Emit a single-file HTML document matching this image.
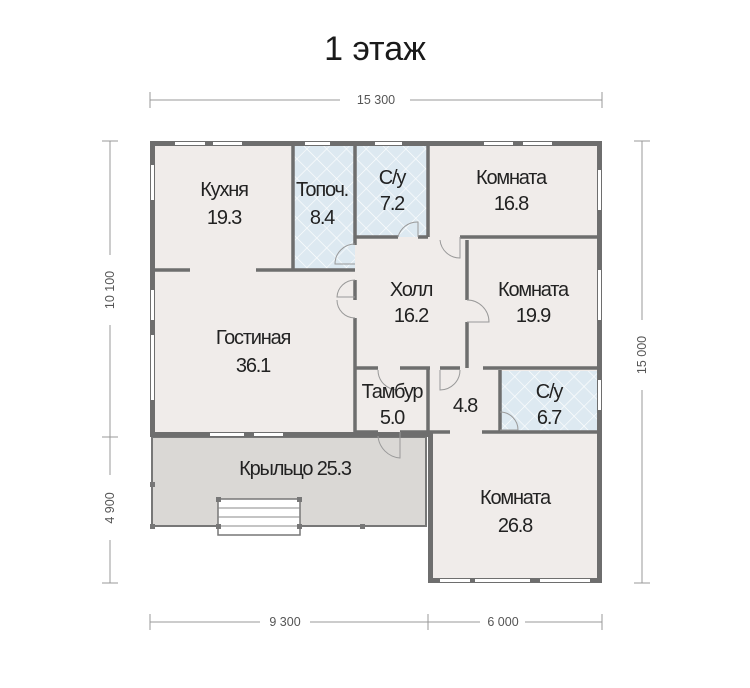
<!DOCTYPE html>
<html><head><meta charset="utf-8"><style>
html,body{margin:0;padding:0;background:#fff;}
svg{display:block}
text{font-family:"Liberation Sans",sans-serif;fill:#222;}
.dim{font-size:12.5px;fill:#555;letter-spacing:0}
.lbl{font-size:20px;text-anchor:middle;letter-spacing:-1.2px}
</style></head><body>
<svg width="750" height="688" viewBox="0 0 750 688" xmlns="http://www.w3.org/2000/svg">
<defs>
<pattern id="tile" width="14" height="14" patternUnits="userSpaceOnUse" patternTransform="rotate(45)">
<rect width="14" height="14" fill="#dde9f1"/>
<path d="M0 0H14M0 0V14" stroke="#fff" stroke-width="1.2"/>
</pattern>
</defs>
<text x="375" y="60" text-anchor="middle" style="font-size:34px;fill:#1a1a1a">1 этаж</text>

<g stroke="#999" stroke-width="1" fill="none">
<path d="M150 100H340M410 100H602M150 92V108M602 92V108"/>
<path d="M110 141V255M110 325V475M110 540V583M102 141H118M102 437H118M102 583H118"/>
<path d="M642 141V320M642 390V583M634 141H650M634 583H650"/>
<path d="M150 622H260M310 622H428M428 622H480M525 622H602M150 614V630M428 614V630M602 614V630"/>
</g>
<text class="dim" x="376" y="104" text-anchor="middle">15 300</text>
<text class="dim" x="0" y="0" text-anchor="middle" transform="translate(114,290) rotate(-90)">10 100</text>
<text class="dim" x="0" y="0" text-anchor="middle" transform="translate(114,508) rotate(-90)">4 900</text>
<text class="dim" x="0" y="0" text-anchor="middle" transform="translate(646,355) rotate(-90)">15 000</text>
<text class="dim" x="285" y="626" text-anchor="middle">9 300</text>
<text class="dim" x="503" y="626" text-anchor="middle">6 000</text>

<rect x="152" y="437" width="274" height="89" fill="#dad8d5" stroke="#777" stroke-width="2"/>
<rect x="218" y="499" width="82" height="36" fill="#fff" stroke="#777" stroke-width="1.5"/>
<path d="M218 508H300M218 517H300M218 526H300" stroke="#888" stroke-width="1"/>
<g fill="#777"><rect x="216" y="497" width="5" height="5"/><rect x="297" y="497" width="5" height="5"/><rect x="216" y="524" width="5" height="5"/><rect x="297" y="524" width="5" height="5"/><rect x="150" y="524" width="5" height="5"/><rect x="360" y="524" width="5" height="5"/><rect x="150" y="482" width="5" height="5"/></g>

<path d="M152 143H600V580H430V435H152Z" fill="#f0ecea"/>
<rect x="293" y="146" width="62" height="124" fill="url(#tile)"/>
<rect x="355" y="146" width="73" height="91" fill="url(#tile)"/>
<rect x="500" y="371" width="97" height="61" fill="url(#tile)"/>

<g stroke="#6e6e6e" stroke-width="5" fill="none">
<path d="M152.5 143.5H599.5V580.5H430.5V434.5H152.5Z"/>
</g>
<g stroke="#fff" stroke-width="3">
<path d="M175 143.5H205M213 143.5H242M305 143.5H330M375 143.5H402M484 143.5H513M523 143.5H552"/>
<path d="M152.5 165V200M152.5 290V320M152.5 335V400"/>
<path d="M599.5 170V210M599.5 270V320M599.5 380V410"/>
<path d="M210 434.5H244M254 434.5H283"/>
<path d="M440 580.5H470M475 580.5H530M540 580.5H590"/>
</g>
<g stroke="#6e6e6e" stroke-width="3.5" fill="none">
<path d="M155 270H190M256 270H355"/>
<path d="M293 146V270"/>
<path d="M355 146V245M355 280V300M355 318V432"/>
<path d="M355 237H398M418 237H428"/>
<path d="M428 146V237"/>
<path d="M460 237H597"/>
<path d="M467 240V300M467 322V368"/>
<path d="M355 368H378M400 368H430M440 368H460M483 368H597"/>
<path d="M428 368V432"/>
<path d="M500 370V432"/>
<path d="M428 432H450M482 432H597"/>
<path d="M355 432H378M400 432H428"/>
</g>
<g stroke="#999" stroke-width="1" fill="none">
<path d="M418 237V222A20 20 0 0 0 398 237"/>
<path d="M355 244A20 20 0 0 0 335 264H355"/>
<path d="M355 280A18 18 0 0 0 337 297L355 297M355 318A18 18 0 0 1 337 300"/>
<path d="M460 237V258A20 20 0 0 1 440 240"/>
<path d="M467 300A22 22 0 0 1 489 322H467"/>
<path d="M440 370V390A20 20 0 0 0 460 370"/>
<path d="M378 370A20 20 0 0 0 398 390"/>
<path d="M400 432V458A24 24 0 0 1 378 436"/>
<path d="M500 412A18 18 0 0 1 518 430H500"/>
</g>

<text class="lbl" x="224" y="196">Кухня</text>
<text class="lbl" x="224" y="224">19.3</text>
<text class="lbl" x="322" y="196">Топоч.</text>
<text class="lbl" x="322" y="224">8.4</text>
<text class="lbl" x="392" y="184">С/у</text>
<text class="lbl" x="392" y="210">7.2</text>
<text class="lbl" x="511" y="184">Комната</text>
<text class="lbl" x="511" y="210">16.8</text>
<text class="lbl" x="411" y="296">Холл</text>
<text class="lbl" x="411" y="322">16.2</text>
<text class="lbl" x="533" y="296">Комната</text>
<text class="lbl" x="533" y="322">19.9</text>
<text class="lbl" x="253" y="344">Гостиная</text>
<text class="lbl" x="253" y="372">36.1</text>
<text class="lbl" x="392" y="398">Тамбур</text>
<text class="lbl" x="392" y="424">5.0</text>
<text class="lbl" x="465" y="412">4.8</text>
<text class="lbl" x="549" y="398">С/у</text>
<text class="lbl" x="549" y="424">6.7</text>
<text class="lbl" x="295" y="475">Крыльцо 25.3</text>
<text class="lbl" x="515" y="504">Комната</text>
<text class="lbl" x="515" y="532">26.8</text>
</svg>
</body></html>
